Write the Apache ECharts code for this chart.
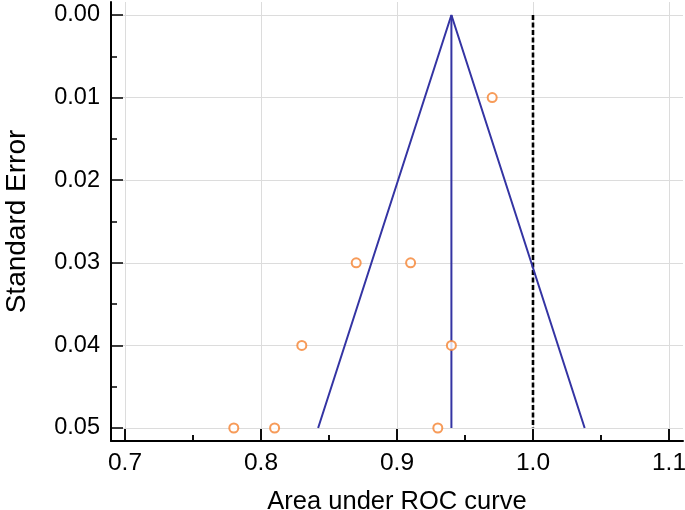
<!DOCTYPE html>
<html>
<head>
<meta charset="utf-8">
<script src="https://cdn.jsdelivr.net/npm/echarts@6/dist/echarts.min.js"></script>
<style>html,body{margin:0;padding:0;background:#fff}#c{width:685px;height:510px}</style>
</head>
<body>
<div id="c"></div>
<script>
// ---- data ----
var xTicks = [0.7, 0.8, 0.9, 1.0, 1.1];
var xMinorTicks = [0.75, 0.85, 0.95, 1.05];
var yTicks = [0, 0.01, 0.02, 0.03, 0.04, 0.05];
var studyAUC = [0.97, 0.87, 0.91, 0.83, 0.94, 0.78, 0.81, 0.93];
var studySE  = [0.01, 0.03, 0.03, 0.04, 0.04, 0.05, 0.05, 0.05];
var pooledAUC = 0.94;
var funnelX  = [0.842, 0.94, 1.038];
var funnelSE = [0.05, 0, 0.05];
var pooledLineSE = [0, 0.05];
var refAUC = 1.0;
var refLineSE = [0, 0.05];

var FONT = 'Liberation Sans, Arial, sans-serif';
var chart = echarts.init(document.getElementById('c'), null, {renderer: 'canvas'});

var X_MIN = 0.6897, X_MAX = 1.1103;
var Y_MIN = -0.001574, Y_MAX = 0.051574;
var TICK = {color: '#000', width: 1.5};
var GRIDLINE = {color: '#dcdcdc', width: 1, type: 'solid'};

// x-axis tick marks drawn through the x scale (inside, pointing up from the axis line)
function xTickSeries(values, len) {
  return {
    type: 'custom', xAxisIndex: 0, yAxisIndex: 0, z: 20, clip: false,
    data: values.map(function (v) { return [v, Y_MAX]; }),
    renderItem: function (params, api) {
      var p = api.coord([api.value(0), api.value(1)]);
      return {
        type: 'line',
        shape: {x1: p[0], y1: p[1], x2: p[0], y2: p[1] - len},
        style: {stroke: TICK.color, lineWidth: TICK.width}
      };
    }
  };
}

var option = {
  animation: false,
  backgroundColor: '#ffffff',
  grid: [
    {left: 111, right: 2, top: 2, bottom: 69, containLabel: false, outerBoundsMode: 'none'},
    {left: 125, right: 16, top: 2, bottom: 69, containLabel: false, outerBoundsMode: 'none'},
    {left: 111, right: 2, top: 15, bottom: 82, containLabel: false, outerBoundsMode: 'none'}
  ],
  xAxis: [
    {
      type: 'value', gridIndex: 0, position: 'bottom', min: X_MIN, max: X_MAX,
      name: 'Area under ROC curve', nameLocation: 'middle', nameGap: 48,
      nameTextStyle: {fontFamily: FONT, fontSize: 25.5, color: '#000'},
      axisLine: {show: true, onZero: false, lineStyle: {color: '#000', width: 2}},
      axisTick: {show: false}, axisLabel: {show: false}, splitLine: {show: false}
    },
    {
      type: 'value', gridIndex: 1, position: 'bottom',
      min: xTicks[0], max: xTicks[xTicks.length - 1], interval: 0.1,
      axisLine: {show: false, onZero: false},
      axisTick: {show: true, inside: true, length: 12, lineStyle: TICK},
      minorTick: {show: true, splitNumber: 2, length: 6, lineStyle: TICK},
      axisLabel: {show: true, margin: 10, fontFamily: FONT, fontSize: 24.5, color: '#000',
        showMinLabel: true, showMaxLabel: true, hideOverlap: false,
        formatter: function (v) { return v.toFixed(1); }},
      splitLine: {show: true, lineStyle: GRIDLINE}
    },
    {type: 'value', gridIndex: 2, show: false, min: X_MIN, max: X_MAX}
  ],
  yAxis: [
    {
      type: 'value', gridIndex: 0, position: 'left', inverse: true, min: Y_MIN, max: Y_MAX,
      name: 'Standard Error', nameLocation: 'middle', nameGap: 80, nameRotate: 90,
      nameTextStyle: {fontFamily: FONT, fontSize: 28, color: '#000'},
      axisLine: {show: true, onZero: false, lineStyle: {color: '#000', width: 2}},
      axisTick: {show: false}, axisLabel: {show: false}, splitLine: {show: false}
    },
    {type: 'value', gridIndex: 1, show: false, inverse: true, min: Y_MIN, max: Y_MAX},
    {
      type: 'value', gridIndex: 2, position: 'left', inverse: true,
      min: yTicks[0], max: yTicks[yTicks.length - 1], interval: 0.01,
      axisLine: {show: false, onZero: false},
      axisTick: {show: true, inside: true, length: 12, lineStyle: TICK},
      minorTick: {show: true, splitNumber: 2, length: 6, lineStyle: TICK},
      axisLabel: {show: true, margin: 11, fontFamily: FONT, fontSize: 23.5, color: '#000',
        showMinLabel: true, showMaxLabel: true, hideOverlap: false,
        formatter: function (v) { return v.toFixed(2); }},
      splitLine: {show: true, lineStyle: GRIDLINE}
    }
  ],
  series: [
    {
      name: 'reference', type: 'line', xAxisIndex: 0, yAxisIndex: 0, z: 3, symbol: 'none',
      data: refLineSE.map(function (s) { return [refAUC, s]; }),
      lineStyle: {color: '#000', width: 2.6, type: [5, 2.5]}
    },
    {
      name: 'funnel', type: 'line', xAxisIndex: 0, yAxisIndex: 0, z: 4, symbol: 'none',
      data: funnelX.map(function (x, i) { return [x, funnelSE[i]]; }),
      lineStyle: {color: '#3434a3', width: 2}
    },
    {
      name: 'pooled', type: 'line', xAxisIndex: 0, yAxisIndex: 0, z: 4, symbol: 'none',
      data: pooledLineSE.map(function (s) { return [pooledAUC, s]; }),
      lineStyle: {color: '#3434a3', width: 2}
    },
    {
      name: 'studies', type: 'scatter', xAxisIndex: 0, yAxisIndex: 0, z: 5,
      symbol: 'emptyCircle', symbolSize: 9,
      itemStyle: {color: '#f5822f', borderWidth: 1.6},
      data: studyAUC.map(function (x, i) { return [x, studySE[i]]; })
    },
    xTickSeries(xTicks, 12),
    xTickSeries(xMinorTicks, 6)
  ]
};
chart.setOption(option);
</script>
</body>
</html>
